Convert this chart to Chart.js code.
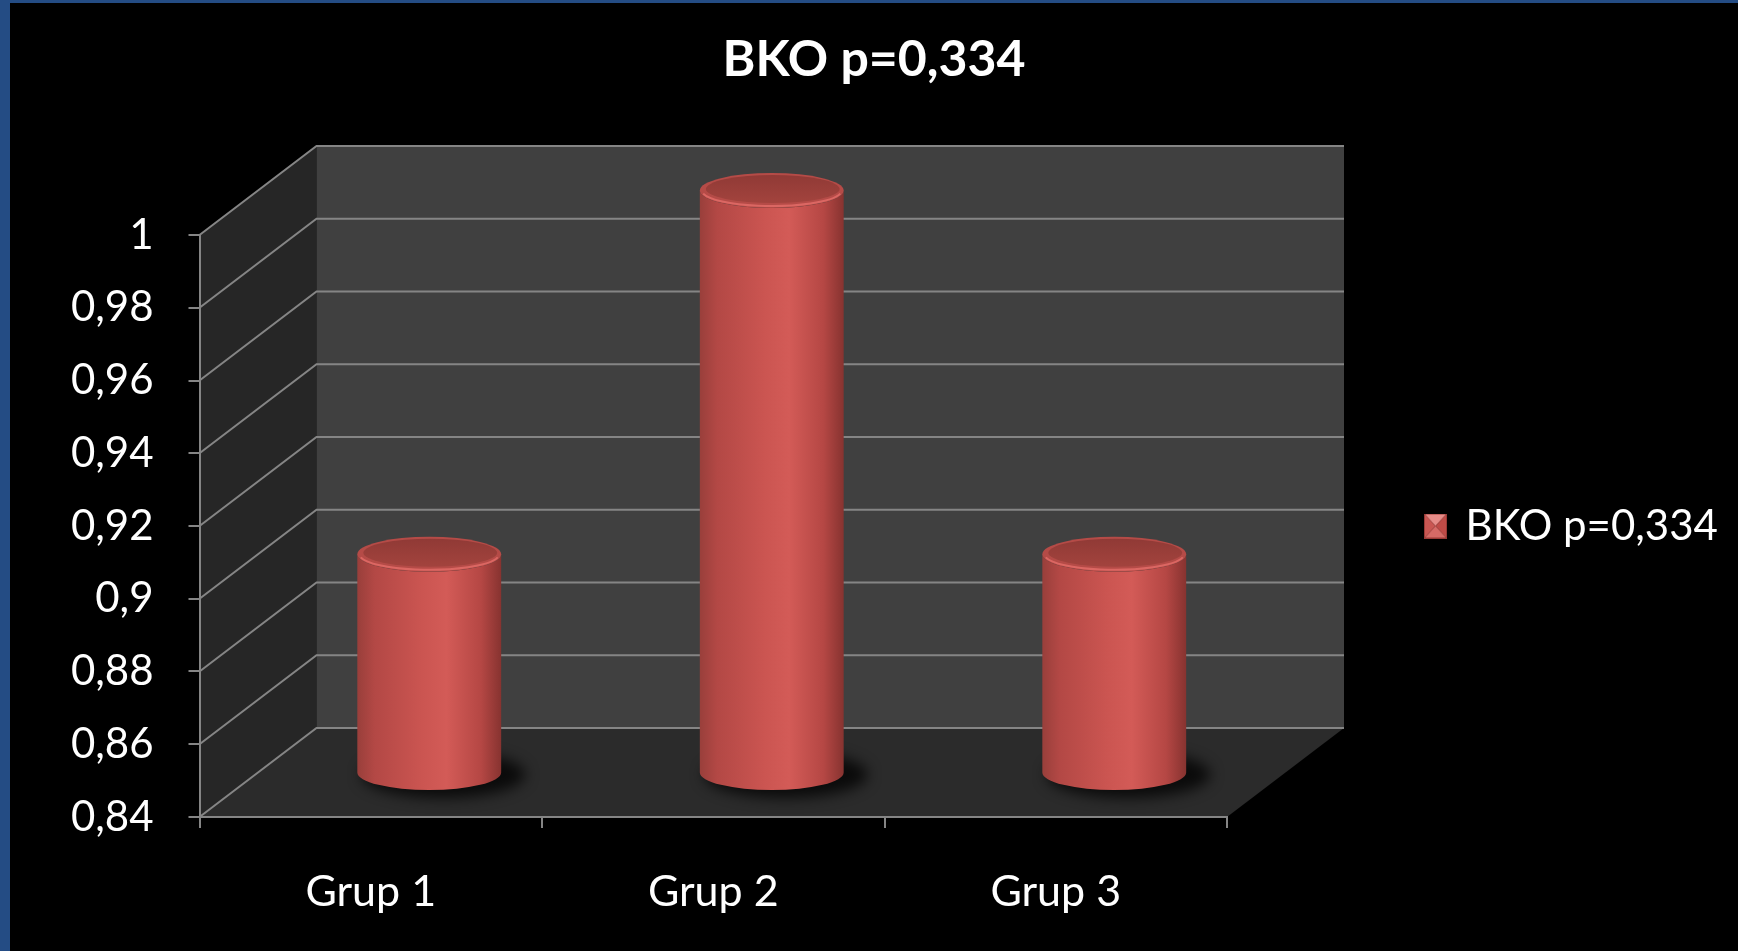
<!DOCTYPE html>
<html>
<head>
<meta charset="utf-8">
<title>BKO p=0,334</title>
<script src="https://cdn.jsdelivr.net/npm/chart.js@4.4.1/dist/chart.umd.min.js"></script>
<style>
  html, body { margin: 0; padding: 0; background: #000; overflow: hidden; }
  #frame {
    position: absolute; left: 0; top: 0;
    width: 1728px; height: 948px;
    border-left: 10px solid #244c84;
    border-top: 3px solid #244c84;
    background: #000;
  }
  #frame canvas { display: block; }
</style>
</head>
<body>
<div id="frame"><canvas id="bkoChart" width="1728" height="948"></canvas></div>
<script>
// data
var categories = ['Grup 1', 'Grup 2', 'Grup 3'];
var seriesName = 'BKO p=0,334';
var bkoValues = [0.90, 1.00, 0.90];
var yTickLabels = ['0,84', '0,86', '0,88', '0,9', '0,92', '0,94', '0,96', '0,98', '1'];

// 3d box depth (back wall offset from the front plane)
var DEPTH_X = 117;
var DEPTH_Y = -89;
var CYL_RY = 17.5;
var GRID_COLOR = '#858585';
var FONT_FAMILY = 'Lato, "Open Sans", sans-serif';

// plot frame and legend geometry
var CANVAS_W = 1728;
var PLOT_LEFT = 189.5;
var PLOT_RIGHT = 1217;
var LEGEND_FONT = 42;
var LEGEND_BOX = 18;
var LEGEND_PAD = 199.5;

// legend box width as Chart.js computes it, so the plot's right edge stays put
var measureCtx = document.createElement('canvas').getContext('2d');
measureCtx.font = 'normal ' + LEGEND_FONT + 'px ' + FONT_FAMILY;
var legendWidth = LEGEND_PAD + LEGEND_BOX + LEGEND_FONT / 2 + measureCtx.measureText(seriesName).width + 10;
var sidePad = Math.max(0, CANVAS_W - PLOT_RIGHT - legendWidth);

// little pyramid-shaded square for the legend
var legendMarker = document.createElement('canvas');
legendMarker.width = 23;
legendMarker.height = 25;
(function () {
  var m = legendMarker.getContext('2d');
  var cx = 11.5, cy = 12.5;
  function tri(ax, ay, bx, by, col) {
    m.beginPath();
    m.moveTo(ax, ay);
    m.lineTo(bx, by);
    m.lineTo(cx, cy);
    m.closePath();
    m.fillStyle = col;
    m.fill();
  }
  tri(0, 0, 23, 0, '#e68c88');
  tri(23, 0, 23, 25, '#bf4b47');
  tri(23, 25, 0, 25, '#d66a66');
  tri(0, 25, 0, 0, '#c95652');
  m.strokeStyle = '#9a3a36';
  m.lineWidth = 1;
  m.strokeRect(0.5, 0.5, 22, 24);
})();

function drawCylinder(ctx, cx, topY, botY, rx, ry) {
  // soft shadow on the floor
  ctx.save();
  ctx.filter = 'blur(7px)';
  ctx.fillStyle = 'rgba(0,0,0,0.75)';
  ctx.beginPath();
  ctx.ellipse(cx + 14, botY + 2, rx + 10, ry + 6, 0, 0, Math.PI * 2);
  ctx.fill();
  ctx.restore();

  // body
  var g = ctx.createLinearGradient(cx - rx, 0, cx + rx, 0);
  g.addColorStop(0, '#993f3b');
  g.addColorStop(0.12, '#b34845');
  g.addColorStop(0.45, '#cb5551');
  g.addColorStop(0.62, '#d35b57');
  g.addColorStop(0.86, '#b54744');
  g.addColorStop(1, '#873330');
  ctx.beginPath();
  ctx.moveTo(cx - rx, topY);
  ctx.lineTo(cx - rx, botY);
  ctx.ellipse(cx, botY, rx, ry, 0, Math.PI, 0, true);
  ctx.lineTo(cx + rx, topY);
  ctx.ellipse(cx, topY, rx, ry, 0, 0, Math.PI, false);
  ctx.closePath();
  ctx.fillStyle = g;
  ctx.fill();

  // top cap
  ctx.beginPath();
  ctx.ellipse(cx, topY, rx, ry, 0, 0, Math.PI * 2);
  ctx.fillStyle = '#b54b47';
  ctx.fill();
  var tg = ctx.createLinearGradient(0, topY - ry, 0, topY + ry);
  tg.addColorStop(0, '#8f3935');
  tg.addColorStop(1, '#a6453f');
  ctx.beginPath();
  ctx.ellipse(cx + 1, topY - 1.5, rx - 5, ry - 3.5, 0, 0, Math.PI * 2);
  ctx.fillStyle = tg;
  ctx.fill();
  ctx.beginPath();
  ctx.ellipse(cx, topY, rx - 2, ry - 2, 0, 0.2, Math.PI - 0.2, false);
  ctx.strokeStyle = 'rgba(232,112,108,0.75)';
  ctx.lineWidth = 2;
  ctx.stroke();
}

var box3d = {
  id: 'box3d',
  beforeDraw: function (chart) {
    var ctx = chart.ctx, a = chart.chartArea, y = chart.scales.y;
    ctx.save();
    // left side wall
    ctx.fillStyle = '#262626';
    ctx.beginPath();
    ctx.moveTo(a.left, a.top);
    ctx.lineTo(a.left + DEPTH_X, a.top + DEPTH_Y);
    ctx.lineTo(a.left + DEPTH_X, a.bottom + DEPTH_Y);
    ctx.lineTo(a.left, a.bottom);
    ctx.closePath();
    ctx.fill();
    // back wall
    ctx.fillStyle = '#404040';
    ctx.fillRect(a.left + DEPTH_X, a.top + DEPTH_Y, a.right - a.left, a.bottom - a.top);
    // floor
    ctx.fillStyle = '#2b2b2b';
    ctx.beginPath();
    ctx.moveTo(a.left, a.bottom);
    ctx.lineTo(a.left + DEPTH_X, a.bottom + DEPTH_Y);
    ctx.lineTo(a.right + DEPTH_X, a.bottom + DEPTH_Y);
    ctx.lineTo(a.right, a.bottom);
    ctx.closePath();
    ctx.fill();
    // gridlines run along the side wall and across the back wall
    ctx.strokeStyle = GRID_COLOR;
    ctx.lineWidth = 2;
    y.ticks.forEach(function (t) {
      var py = y.getPixelForValue(t.value);
      ctx.beginPath();
      ctx.moveTo(a.left, py);
      ctx.lineTo(a.left + DEPTH_X, py + DEPTH_Y);
      ctx.lineTo(a.right + DEPTH_X, py + DEPTH_Y);
      ctx.stroke();
    });
    ctx.restore();
  },
  afterDatasetsDraw: function (chart) {
    var ctx = chart.ctx, y = chart.scales.y;
    var floorY = y.getPixelForValue(y.min);
    chart.getDatasetMeta(0).data.forEach(function (bar) {
      var p = bar.getProps(['x', 'y', 'width'], true);
      drawCylinder(ctx, p.x + DEPTH_X / 2, p.y + DEPTH_Y / 2, floorY + DEPTH_Y / 2, p.width / 2, CYL_RY);
    });
  }
};

Chart.defaults.font.family = FONT_FAMILY;
Chart.defaults.color = '#ffffff';

new Chart(document.getElementById('bkoChart'), {
  type: 'bar',
  data: {
    labels: categories,
    datasets: [{
      label: seriesName,
      data: bkoValues,
      backgroundColor: 'rgba(0,0,0,0)',
      borderWidth: 0,
      barPercentage: 0.42,
      categoryPercentage: 1
    }]
  },
  options: {
    responsive: false,
    animation: false,
    events: [],
    layout: { padding: { left: sidePad, top: 0, bottom: 0, right: sidePad } },
    plugins: {
      title: {
        display: true,
        text: seriesName,
        color: '#ffffff',
        font: { size: 50, weight: 'bold' },
        padding: { top: 26.5, bottom: 145.5 }
      },
      legend: {
        position: 'right',
        fullSize: false,
        maxWidth: 900,
        labels: {
          usePointStyle: true,
          pointStyle: legendMarker,
          boxWidth: LEGEND_BOX,
          boxHeight: 25,
          padding: LEGEND_PAD,
          color: '#ffffff',
          font: { size: LEGEND_FONT }
        }
      },
      tooltip: { enabled: false }
    },
    scales: {
      x: {
        grid: { display: true, drawOnChartArea: false, drawTicks: true, tickLength: 11, color: GRID_COLOR, lineWidth: 2 },
        border: { display: true, color: GRID_COLOR, width: 2 },
        ticks: { color: '#ffffff', font: { size: 43 }, padding: 38 },
        afterFit: function (s) { s.height = 134; }
      },
      y: {
        min: 0.84,
        max: 1.0,
        grid: { display: true, drawOnChartArea: false, drawTicks: true, tickLength: 11, color: GRID_COLOR, lineWidth: 2 },
        border: { display: true, color: GRID_COLOR, width: 2 },
        ticks: {
          stepSize: 0.02,
          color: '#ffffff',
          font: { size: 42 },
          padding: 35,
          callback: function (value, i) { return yTickLabels[i]; }
        },
        afterFit: function (s) { s.width = PLOT_LEFT - sidePad; }
      }
    }
  },
  plugins: [box3d]
});
</script>
</body>
</html>
